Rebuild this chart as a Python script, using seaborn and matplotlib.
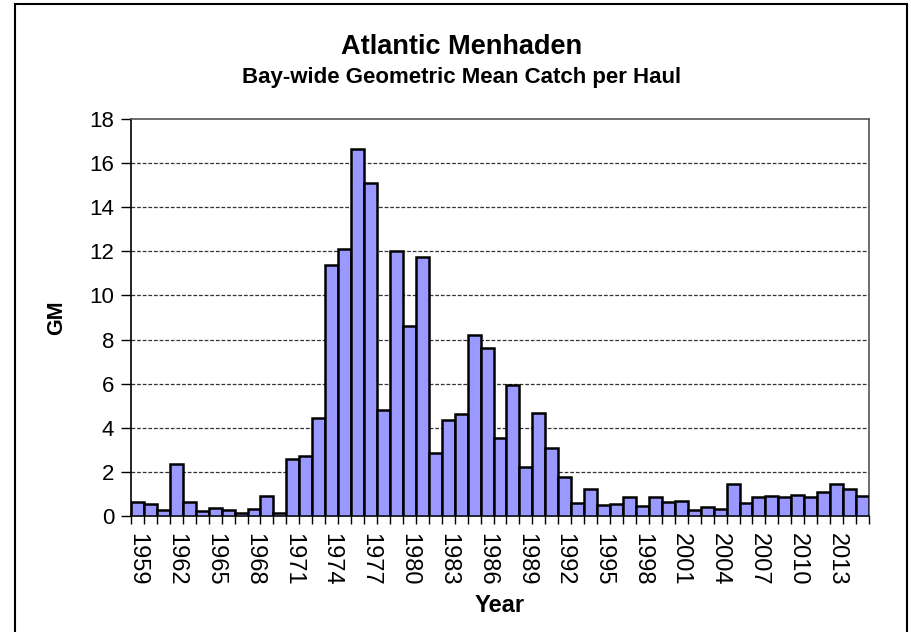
import numpy as np
import pandas as pd
import matplotlib
matplotlib.use('Agg')
import matplotlib.pyplot as plt
import seaborn as sns
from matplotlib.patches import Rectangle

# Bay-wide geometric mean catch per haul, 1959-2015
years = list(range(1959, 2016))
gm = [0.65, 0.56, 0.29, 2.34, 0.64, 0.21, 0.35, 0.29, 0.12, 0.30,
      0.90, 0.12, 2.59, 2.73, 4.43, 11.36, 12.10, 16.65, 15.08, 4.79,
      12.01, 8.63, 11.75, 2.84, 4.34, 4.64, 8.20, 7.62, 3.55, 5.92,
      2.22, 4.68, 3.10, 1.77, 0.59, 1.22, 0.49, 0.54, 0.85, 0.44,
      0.85, 0.64, 0.70, 0.27, 0.39, 0.30, 1.43, 0.61, 0.84, 0.90,
      0.88, 0.97, 0.84, 1.09, 1.47, 1.21, 0.90]
y_ticks = [0, 2, 4, 6, 8, 10, 12, 14, 16, 18]

df = pd.DataFrame({'Year': [str(y) for y in years], 'GM': gm})

sns.set_style('white')
plt.rcParams['font.family'] = ['Liberation Sans', 'DejaVu Sans']
plt.rcParams['text.color'] = 'black'
plt.rcParams['axes.labelcolor'] = 'black'
plt.rcParams['xtick.color'] = 'black'
plt.rcParams['ytick.color'] = 'black'

fig = plt.figure(figsize=(9.11, 6.32), dpi=100)
ax = fig.add_axes([131 / 911, 1 - 516 / 632, (869 - 131) / 911, (516 - 119) / 632])

sns.barplot(data=df, x='Year', y='GM', color='#9999FF', saturation=1,
            edgecolor='black', linewidth=1.8, width=1.0, ax=ax, zorder=3)

# Axis limits and gridlines
ax.set_xlim(-0.5, len(years) - 0.5)
ax.set_ylim(0, 18)
ax.set_yticks(y_ticks)
ax.set_yticklabels([str(t) for t in y_ticks], fontsize=16)
for t in y_ticks[1:-1]:
    ax.axhline(t, color='#333333', linewidth=0.9, linestyle=(0, (3, 1.5)), zorder=1)

# Category labels every 3 years, ticks between the bars
ax.set_xticks(range(0, len(years), 3))
ax.set_xticklabels([str(years[i]) for i in range(0, len(years), 3)],
                   rotation=-90, fontsize=17)
ax.set_xticks(np.arange(-0.5, len(years), 1), minor=True)
ax.tick_params(axis='x', which='major', length=0, pad=12)
ax.tick_params(axis='x', which='minor', length=6, width=1, color='black',
               direction='out', bottom=True)
ax.tick_params(axis='y', length=7, width=1, color='black', direction='out',
               left=True, pad=5)

ax.set_xlabel('Year', fontsize=17, fontweight='bold', labelpad=6)
ax.set_ylabel('GM', fontsize=15.5, fontweight='bold', labelpad=16)

for side in ['left', 'bottom']:
    ax.spines[side].set_color('black')
    ax.spines[side].set_linewidth(1.2)
for side in ['top', 'right']:
    ax.spines[side].set_visible(True)
    ax.spines[side].set_color('#555555')
    ax.spines[side].set_linewidth(1.2)

# Titles
fig.text(462 / 911, 1 - 54 / 632, 'Atlantic Menhaden', ha='center', va='baseline',
         fontsize=19.5, fontweight='bold')
fig.text(462 / 911, 1 - 83 / 632, 'Bay-wide Geometric Mean Catch per Haul',
         ha='center', va='baseline', fontsize=16, fontweight='bold')

# Outer chart frame
fig.patches.append(Rectangle((15 / 911, -0.02), (907 - 15) / 911, (632 - 4) / 632 + 0.02,
                             transform=fig.transFigure, fill=False,
                             edgecolor='black', linewidth=1.5))

fig.savefig('out.png', dpi=100)
